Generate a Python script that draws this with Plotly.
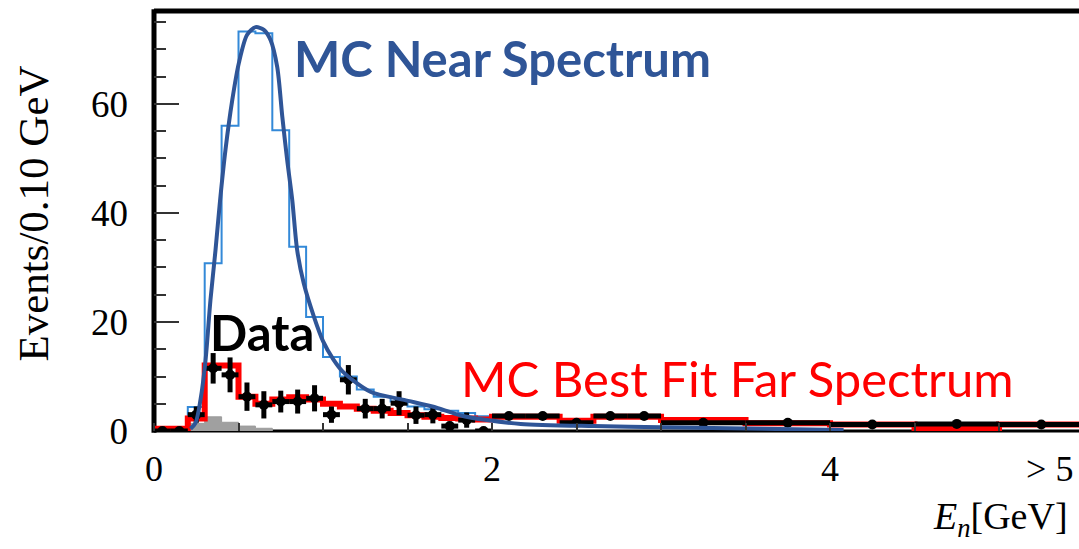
import plotly.graph_objects as go

# ---- binned spectra (0.10 GeV bins up to 2 GeV) ----
fine_edges = [0.0, 0.1, 0.2, 0.3, 0.4, 0.5, 0.6, 0.7, 0.8, 0.9, 1.0,
              1.1, 1.2, 1.3, 1.4, 1.5, 1.6, 1.7, 1.8, 1.9, 2.0]

# MC near spectrum (histogram outline)
near_edges = fine_edges[2:]
near_counts = [4.4, 30.8, 56.0, 73.3, 73.0, 55.2, 33.8, 20.9, 13.6, 10.0,
               7.6, 6.3, 5.4, 4.5, 4.0, 3.7, 3.3, 2.7]

# MC best-fit far spectrum (fine bins, then wider bins above 2 GeV)
far_edges = fine_edges + [2.2, 2.4, 2.6, 2.8, 3.0, 3.5, 4.0, 4.5, 5.0, 5.5]
far_counts = [0.4, 0.4, 2.3, 12.0, 12.0, 6.3, 5.0, 5.8, 6.2, 5.8,
              5.0, 4.5, 4.1, 3.7, 3.3, 2.9, 2.6, 2.4, 2.3, 2.1,
              2.6, 2.6, 1.9, 2.6, 2.6, 2.0, 1.4, 1.2, 0.4, 1.2]

# background contribution (filled)
bkg_edges = [0.2, 0.3, 0.4, 0.5, 0.6, 0.7]
bkg_counts = [1.4, 2.6, 1.6, 0.9, 0.5]

# ---- data ----
data_e = [0.05, 0.15, 0.25, 0.35, 0.45, 0.55, 0.65, 0.75, 0.85, 0.95,
          1.05, 1.15, 1.25, 1.35, 1.45, 1.55, 1.65, 1.75, 1.85, 1.95,
          2.1, 2.3, 2.5, 2.7, 2.9, 3.25, 3.75, 4.25, 4.75, 5.25]
data_n = [0.0, 0.0, 3.0, 11.5, 10.3, 6.3, 4.8, 5.4, 5.4, 6.0,
          3.0, 9.4, 4.1, 4.1, 5.1, 2.9, 3.0, 0.9, 2.0, 0.0,
          2.75, 2.75, 1.5, 2.75, 2.75, 1.5, 1.5, 1.2, 1.3, 1.2]
data_err = [0, 0, 1.5, 2.8, 3.2, 2.6, 2.5, 2.0, 2.2, 2.4,
            1.5, 2.7, 1.8, 1.8, 2.2, 1.6, 1.6, 0.8, 1.4, 0,
            0, 0, 0, 0, 0, 0, 0, 0, 0, 0]
data_halfwidth = [0.05] * 20 + [0.1] * 5 + [0.25] * 5

# ---- smooth near-spectrum curve ----
curve_e = [0.216, 0.246, 0.275, 0.305, 0.334, 0.364, 0.39, 0.423, 0.463, 0.502,
           0.551, 0.601, 0.65, 0.69, 0.729, 0.759, 0.788, 0.818, 0.847, 0.886,
           0.946, 1.0, 1.06, 1.12, 1.28, 1.48, 1.68, 1.81, 1.97, 2.17, 2.6, 3.0,
           3.6, 4.08]
curve_v = [0.4, 1.5, 5.7, 13.0, 24.0, 33.2, 42.0, 51.6, 60.7, 67.5,
           72.7, 74.1, 73.6, 71.7, 66.8, 57.7, 49.7, 42.4, 33.2, 27.1,
           21.0, 16.5, 13.2, 10.8, 7.2, 5.7, 4.2, 2.9, 2.0, 1.3, 0.9, 0.7,
           0.4, 0.2]

y_ticks = [0, 20, 40, 60]
x_tickvals = [0, 2, 4, 5.3]
x_ticktext = ["0", "2", "4", "> 5"]


def step_xy(edges, counts):
    """Return x/y for an 'hv' step line that starts from zero."""
    ys = list(counts) + [counts[-1]]
    return [edges[0]] + list(edges), [0] + ys


fig = go.Figure()

# background (grey fill)
bx, by = step_xy(bkg_edges, bkg_counts)
fig.add_trace(go.Scatter(x=bx + [bkg_edges[-1]], y=by + [0], mode="lines",
                         line=dict(shape="hv", color="#9c9c9c", width=1),
                         fill="tozeroy", fillcolor="#a0a0a0",
                         hoverinfo="skip"))

# MC near spectrum histogram outline
nx, ny = step_xy(near_edges, near_counts)
fig.add_trace(go.Scatter(x=nx, y=ny, mode="lines",
                         line=dict(shape="hv", color="#3389d8", width=2),
                         hoverinfo="skip"))

# MC best-fit far spectrum
fig.add_trace(go.Scatter(x=far_edges, y=far_counts + [far_counts[-1]], mode="lines",
                         line=dict(shape="hv", color="#ff0000", width=6),
                         hoverinfo="skip"))

# data points with errors
fig.add_trace(go.Scatter(x=data_e, y=data_n, mode="markers",
                         marker=dict(color="black", size=10),
                         error_x=dict(type="data", array=data_halfwidth,
                                      color="black", thickness=5, width=0),
                         error_y=dict(type="data", array=data_err,
                                      color="black", thickness=5, width=0),
                         hoverinfo="skip"))

# smooth near-spectrum curve
fig.add_trace(go.Scatter(x=curve_e, y=curve_v, mode="lines",
                         line=dict(shape="spline", smoothing=0.8,
                                   color="#2f5597", width=4),
                         hoverinfo="skip"))

serif = "Liberation Serif"

fig.update_layout(
    width=1079, height=549,
    margin=dict(l=154, r=0, t=11, b=118),
    paper_bgcolor="white", plot_bgcolor="white",
    showlegend=False,
    xaxis=dict(range=[0, 5.473], showgrid=False, zeroline=False, showline=False,
               tickmode="array", tickvals=x_tickvals, ticktext=x_ticktext,
               ticks="", ticklabelstandoff=13,
               tickfont=dict(family=serif, size=36, color="black"),
               minor=dict(tickmode="linear", tick0=0, dtick=0.5, ticks="inside",
                          ticklen=8, tickwidth=2, tickcolor="#333", showgrid=False)),
    yaxis=dict(range=[0, 77.06], showgrid=False, zeroline=False, showline=False,
               tickmode="array", tickvals=y_ticks, ticks="inside", ticklen=25,
               tickwidth=2, tickcolor="#333", ticklabelstandoff=25,
               tickfont=dict(family=serif, size=37, color="black"),
               minor=dict(tickmode="linear", tick0=0, dtick=5, ticks="inside",
                          ticklen=12, tickwidth=2, tickcolor="#333", showgrid=False)),
    shapes=[
        dict(type="line", xref="paper", yref="paper", x0=0, x1=0, y0=-0.004, y1=1.004,
             line=dict(color="black", width=5), layer="below"),
        dict(type="line", xref="paper", yref="paper", x0=0, x1=1, y0=1, y1=1,
             line=dict(color="black", width=5), layer="below"),
        dict(type="line", xref="paper", yref="paper", x0=0, x1=1, y0=0, y1=0,
             line=dict(color="black", width=3), layer="below"),
    ],
)

fig.add_annotation(text="Events/0.10 GeV", xref="paper", yref="paper",
                   x=-0.13, y=0.517, textangle=-90, showarrow=False,
                   xanchor="center", yanchor="middle",
                   font=dict(family=serif, size=43, color="black"))
fig.add_annotation(text="<i>E</i><sub><i>n</i></sub>[GeV]", xref="paper", yref="paper",
                   x=0.990, y=-0.21, showarrow=False,
                   xanchor="right", yanchor="middle",
                   font=dict(family=serif, size=38, color="black"))

fig.add_annotation(text="<b>MC Near Spectrum</b>", xref="paper", yref="paper",
                   x=(292 - 154) / 925, y=(431 - 58) / 420, showarrow=False,
                   xanchor="left", yanchor="middle",
                   font=dict(family="Lato", size=49, color="#2f5597"))
fig.add_annotation(text="<b>Data</b>", xref="paper", yref="paper",
                   x=(208 - 154) / 925, y=(431 - 332) / 420, showarrow=False,
                   xanchor="left", yanchor="middle",
                   font=dict(family="Lato", size=49, color="black"))
fig.add_annotation(text="MC Best Fit Far Spectrum", xref="paper", yref="paper",
                   x=(459 - 154) / 925, y=(431 - 378) / 420, showarrow=False,
                   xanchor="left", yanchor="middle",
                   font=dict(family="Lato", size=49, color="#ff0000"))

fig.write_html("out.html")
